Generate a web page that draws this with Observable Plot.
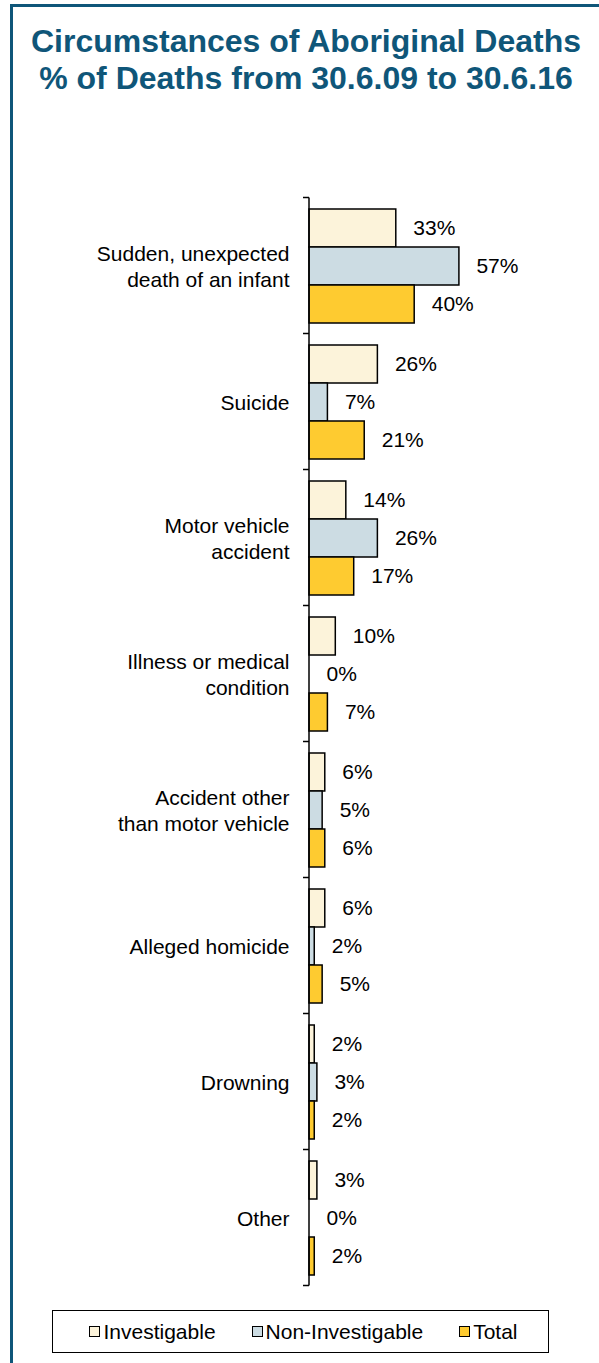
<!DOCTYPE html>
<html>
<head>
<meta charset="utf-8">
<script src="https://cdn.jsdelivr.net/npm/d3@7"></script>
<script src="https://cdn.jsdelivr.net/npm/@observablehq/plot@0.6"></script>
<style>
  html, body { margin: 0; padding: 0; background: #fff; }
  body { font-family: Arial, "Liberation Sans", sans-serif; }
  #page { position: relative; width: 599px; height: 1363px; overflow: hidden; }
  #frame { position: absolute; left: 10px; top: 4px; width: 700px; height: 1500px;
           border-left: 3px solid #0f5679; border-top: 3px solid #0f5679; box-sizing: border-box; }
  #title { position: absolute; left: 13px; width: 586px; top: 23px; text-align: center;
           font-weight: bold; font-size: 32px; line-height: 37px; color: #0f5679; white-space: nowrap; }
  #chart { position: absolute; left: 0; top: 150px; }
  #legend { position: absolute; left: 52px; top: 1310px; width: 497px; height: 43px; box-sizing: border-box;
            border: 1.5px solid #000; display: flex; align-items: center; justify-content: center;
            gap: 36px; font-size: 21px; color: #000; padding-left: 6px; }
  .item { display: flex; align-items: center; }
  .sw { width: 9px; height: 9px; border: 1.2px solid #000; margin-right: 3px; }
</style>
</head>
<body>
<div id="page">
  <div id="frame"></div>
  <div id="title">Circumstances of Aboriginal Deaths<br>% of Deaths from 30.6.09 to 30.6.16</div>
  <div id="chart"></div>
  <div id="legend"></div>
</div>
<script>
const categories = [
  "Sudden, unexpected death of an infant",
  "Suicide",
  "Motor vehicle accident",
  "Illness or medical condition",
  "Accident other than motor vehicle",
  "Alleged homicide",
  "Drowning",
  "Other"
];
const categoryLabels = [
  "Sudden, unexpected\ndeath of an infant",
  "Suicide",
  "Motor vehicle\naccident",
  "Illness or medical\ncondition",
  "Accident other\nthan motor vehicle",
  "Alleged homicide",
  "Drowning",
  "Other"
];
const series = ["Investigable", "Non-Investigable", "Total"];
const seriesColors = ["#fcf3da", "#ccdce3", "#fecb30"];
const investigable    = [33, 26, 14, 10, 6, 6, 2, 3];
const nonInvestigable = [57,  7, 26,  0, 5, 2, 3, 0];
const total           = [40, 21, 17,  7, 6, 5, 2, 2];

const valuesBySeries = [investigable, nonInvestigable, total];
const data = [];
categories.forEach((c, i) => {
  series.forEach((s, j) => data.push({category: c, series: s, value: valuesBySeries[j][i]}));
});
const labelOf = new Map(categories.map((c, i) => [c, categoryLabels[i]]));

const plot = Plot.plot({
  width: 599,
  height: 1154,
  marginTop: 45,
  marginBottom: 15,
  marginLeft: 309,
  marginRight: 27,
  style: {fontFamily: "Arial, 'Liberation Sans', sans-serif", fontSize: "21px", color: "#000", background: "transparent"},
  x: {domain: [0, 100], axis: null},
  y: {domain: series, axis: null, padding: 0},
  fy: {domain: categories, paddingInner: 0.153, paddingOuter: 0.0765, axis: null},
  color: {domain: series, range: seriesColors},
  marks: [
    Plot.barX(data, {fy: "category", y: "series", x: "value", fill: "series",
                     stroke: "#000", strokeWidth: 1.5}),
    Plot.text(data, {fy: "category", y: "series", x: "value", text: d => d.value + "%",
                     dx: 17, textAnchor: "start", fill: "#000", fontSize: 21}),
    Plot.axisFy({anchor: "left", tickSize: 0, tickPadding: 20, label: null,
                 tickFormat: d => labelOf.get(d), fontSize: 21, lineHeight: 1.22, fill: "#000"})
  ]
});
document.getElementById("chart").appendChild(plot);

// Category axis line with ticks at band boundaries, using Plot's own scales
const fy = plot.scale("fy");
const xs = plot.scale("x");
const x0 = xs.apply(0);
const starts = categories.map(c => fy.apply(c));
const step = starts.length > 1 ? starts[1] - starts[0] : fy.step;
const bw = fy.bandwidth;
const half = (step - bw) / 2;
const bounds = starts.map(s => s - half).concat([starts[starts.length - 1] + bw + half]);
const g = d3.select(plot).append("g").attr("stroke", "#000").attr("stroke-width", 1.5);
g.append("line").attr("x1", x0).attr("x2", x0)
  .attr("y1", bounds[0]).attr("y2", bounds[bounds.length - 1]);
g.selectAll("line.tick").data(bounds).join("line").attr("class", "tick")
  .attr("x1", x0 - 6).attr("x2", x0).attr("y1", d => d).attr("y2", d => d);

// Legend
const legend = document.getElementById("legend");
series.forEach((s, i) => {
  const it = document.createElement("div");
  it.className = "item";
  const sw = document.createElement("div");
  sw.className = "sw";
  sw.style.background = seriesColors[i];
  const t = document.createElement("span");
  t.textContent = s;
  it.appendChild(sw); it.appendChild(t);
  legend.appendChild(it);
});
</script>
</body>
</html>
